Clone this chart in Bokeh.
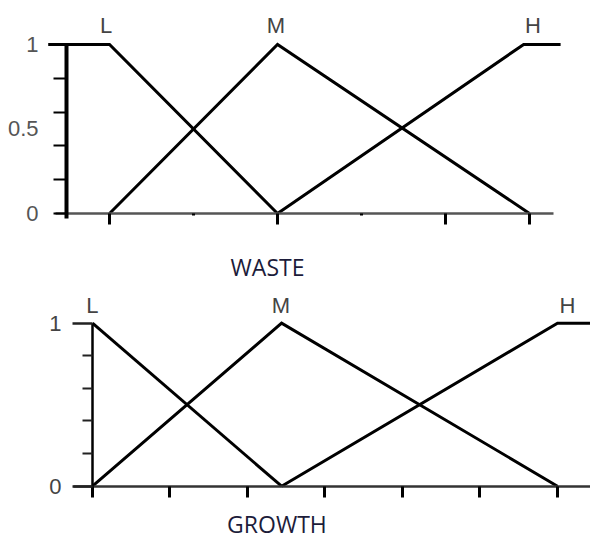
from bokeh.plotting import figure
from bokeh.models import Range1d, FixedTicker
from bokeh.layouts import column
from bokeh.embed import file_html
from bokeh.resources import INLINE
from bokeh.core.properties import value

# ---------------- data ----------------
terms = ["L", "M", "H"]
label_y = 1.11

# WASTE membership functions
waste_L_x = [-0.73, 0, 2]
waste_L_y = [1, 1, 0]
waste_M_x = [0, 2, 5]
waste_M_y = [0, 1, 0]
waste_H_x = [2, 4.93, 5.37]
waste_H_y = [0, 1, 1]
waste_label_x = [-0.04, 1.98, 5.04]
waste_y_ticks = [0, 0.2, 0.4, 0.6, 0.8, 1]
waste_y_labels = {0: "0", 0.5: "0.5", 1: "1"}
waste_x_major = [0, 2, 4, 5]
waste_x_minor = [1, 3]

# GROWTH membership functions
growth_L_x = [0, 2.44]
growth_L_y = [1, 0]
growth_M_x = [0, 2.44, 6]
growth_M_y = [0, 1, 0]
growth_H_x = [2.44, 6, 6.45]
growth_H_y = [0, 1, 1]
growth_label_x = [0, 2.43, 6.13]
growth_y_major = [0, 1]
growth_y_minor = [0.2, 0.4, 0.6, 0.8]
growth_x_ticks = [0, 1, 2, 3, 4, 5, 6]

TICK_FONT = "Liberation Sans"
NAME_FONT = "Open Sans"


def base_fig(width, height, xr, yr):
    p = figure(width=width, height=height, x_range=Range1d(*xr), y_range=Range1d(*yr),
               output_backend="svg", toolbar_location=None,
               min_border_left=0, min_border_right=0, min_border_top=0,
               min_border_bottom=0)
    p.grid.visible = False
    p.outline_line_color = None
    p.background_fill_color = "white"
    p.border_fill_color = "white"
    return p


def draw_lines(p, series):
    for xs, ys in series:
        p.line(xs, ys, line_width=3, line_color="black", line_join="miter")


def name_text(p, x, y, txt):
    p.text(x=[x], y=[y], text=[txt], text_font=value(NAME_FONT), text_font_size="23px",
           text_align="center", text_baseline="middle", text_color="#1c1c3a")


# ---------------- WASTE ----------------
p1 = base_fig(590, 285, (-1.298, 5.726), (-0.426, 1.260))
draw_lines(p1, [(waste_L_x, waste_L_y), (waste_M_x, waste_M_y), (waste_H_x, waste_H_y)])
p1.text(x=waste_label_x, y=[label_y] * 3, text=terms, text_font=value(TICK_FONT),
        text_font_size="22px", text_align="center", text_baseline="middle",
        text_color="#444444")

ya = p1.yaxis[0]
ya.fixed_location = -0.512
ya.ticker = FixedTicker(ticks=list(waste_y_labels.keys()), minor_ticks=waste_y_ticks)
ya.major_label_overrides = waste_y_labels
ya.bounds = (-0.03, 1)
ya.axis_line_width = 4
ya.axis_line_color = "black"
ya.major_tick_line_color = None
ya.major_tick_out = 13
ya.major_tick_in = 0
ya.minor_tick_out = 13
ya.minor_tick_in = 0
ya.minor_tick_line_width = 2
ya.minor_tick_line_color = "black"
ya.major_label_standoff = 15
ya.major_label_text_font = TICK_FONT
ya.major_label_text_font_size = "22px"
ya.major_label_text_color = "#555555"

xa = p1.xaxis[0]
xa.fixed_location = 0
xa.ticker = FixedTicker(ticks=waste_x_major, minor_ticks=waste_x_minor)
xa.major_label_overrides = {t: "" for t in waste_x_major}
xa.bounds = (-0.643, 5.286)
xa.axis_line_width = 2.5
xa.axis_line_color = "#555555"
xa.major_tick_out = 11
xa.major_tick_in = 0
xa.major_tick_line_width = 3
xa.major_tick_line_color = "black"
xa.minor_tick_out = 2
xa.minor_tick_in = 0
xa.minor_tick_line_width = 3
xa.minor_tick_line_color = "black"

name_text(p1, 1.881, -0.3195, "WASTE")

# ---------------- GROWTH ----------------
p2 = base_fig(590, 254, (-1.187, 6.426), (-0.327, 1.231))
draw_lines(p2, [(growth_L_x, growth_L_y), (growth_M_x, growth_M_y), (growth_H_x, growth_H_y)])
p2.text(x=growth_label_x, y=[label_y] * 3, text=terms, text_font=value(TICK_FONT),
        text_font_size="22px", text_align="center", text_baseline="middle",
        text_color="#444444")

ya2 = p2.yaxis[0]
ya2.fixed_location = 0
ya2.ticker = FixedTicker(ticks=growth_y_major, minor_ticks=growth_y_minor)
ya2.major_label_overrides = {0: "0", 1: "1"}
ya2.bounds = (0, 1)
ya2.axis_line_width = 2.5
ya2.axis_line_color = "black"
ya2.major_tick_out = 20
ya2.major_tick_in = 0
ya2.major_tick_line_width = 2.5
ya2.major_tick_line_color = "#222222"
ya2.minor_tick_out = 10
ya2.minor_tick_in = 0
ya2.minor_tick_line_width = 2
ya2.minor_tick_line_color = "#222222"
ya2.major_label_standoff = 11
ya2.major_label_text_font = TICK_FONT
ya2.major_label_text_font_size = "22px"
ya2.major_label_text_color = "#444444"

xa2 = p2.xaxis[0]
xa2.fixed_location = 0
xa2.ticker = FixedTicker(ticks=growth_x_ticks)
xa2.major_label_overrides = {t: "" for t in growth_x_ticks}
xa2.bounds = (-0.245, 6.43)
xa2.axis_line_width = 2.5
xa2.axis_line_color = "#333333"
xa2.major_tick_out = 11
xa2.major_tick_in = 0
xa2.major_tick_line_width = 3
xa2.major_tick_line_color = "black"
xa2.minor_tick_line_color = None

name_text(p2, 2.38, -0.229, "GROWTH")

layout = column(p1, p2, spacing=0)
open("out.html", "w").write(file_html(layout, INLINE))
